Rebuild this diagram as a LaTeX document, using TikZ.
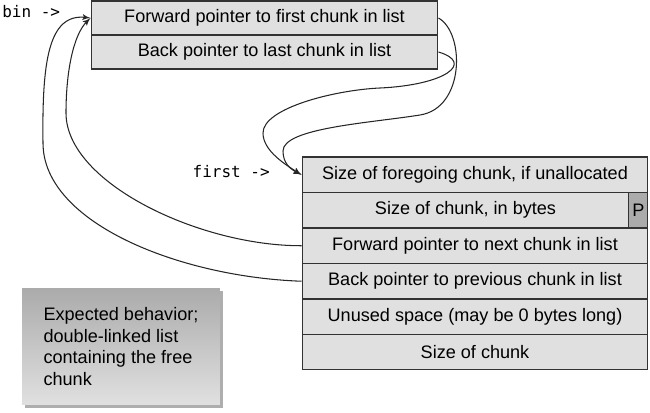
\documentclass[tikz,border=0pt]{standalone}
\usepackage{fontspec}
\setmainfont{Liberation Sans}
\setmonofont{DejaVu Sans Mono}
\usepackage{tikz}
\usetikzlibrary{arrows,positioning,shadows}
\tikzset{
	cell/.style = {draw=black!80, fill=black!12, rectangle, line width=0.6pt, inner sep=0pt, minimum width=6.92cm, minimum height=0.71cm, font=\fontsize{10.3}{12.3}\selectfont},
	pcell/.style = {cell, fill=black!33, minimum width=0.38cm},
	ptr/.style = {inner sep=0pt, font=\fontsize{9.1}{11}\selectfont\ttfamily},
	note/.style = {rectangle, top color=black!33, bottom color=black!12, minimum width=3.96cm, minimum height=2.34cm, align=left, font=\fontsize{10.3}{12.3}\selectfont, drop shadow={shadow xshift=0.6mm, shadow yshift=-0.6mm, opacity=0.45, fill=black!70}},
	link/.style = {-latex', line width=0.6pt, black!85}
}

\begin{document}
\begin{tikzpicture}[x=0.02cm, y=0.02cm]
    \useasboundingbox (0,0) rectangle (650,413);

    \node [cell, minimum width=6.94cm, minimum height=0.68cm] (fwdfirst) at (264.5,395) {Forward pointer to first chunk in list};
    \node [cell, minimum width=6.94cm, minimum height=0.68cm, below of=fwdfirst, node distance=0.68cm] (backlast) {Back pointer to last chunk in list};

    \node [cell] (foreg) at (475,238.25) {Size of foregoing chunk, if unallocated};
    \node [cell, minimum width=6.54cm, below of=foreg, node distance=0.71cm, xshift=-0.19cm] (sizeb) {Size of chunk, in bytes};
    \node [pcell, right of=sizeb, node distance=3.46cm] (pbit) {P};
    \node [cell, below of=sizeb, node distance=0.71cm, xshift=0.19cm] (fwdnext) {Forward pointer to next chunk in list};
    \node [cell, below of=fwdnext, node distance=0.71cm] (backprev) {Back pointer to previous chunk in list};
    \node [cell, below of=backprev, node distance=0.71cm] (unused) {Unused space (may be 0 bytes long)};
    \node [cell, below of=unused, node distance=0.71cm] (sizeend) {Size of chunk};

    \node [ptr, anchor=west] (binptr) at (2,401) {bin ->};
    \node [ptr, anchor=east] (firstptr) at (270,241) {first ->};

    \node [note] (expected) at (121,66.5) {Expected behavior;\\double-linked list\\containing the free\\chunk};

    \draw [link] (fwdfirst.east) .. controls (465,380) and (465,305) .. (420,298) .. controls (370,290) and (283,285) .. (283,262) .. controls (283,250) and (290,244) .. (foreg.west);
    \draw [link] (backlast.east) .. controls (475,350) and (445,328) .. (380,325) .. controls (335,323) and (263,305) .. (263,280) .. controls (263,262) and (286,248) .. (foreg.west);
    \draw [link] (fwdnext.west) .. controls (200,167) and (66,230) .. (66,300) .. controls (66,340) and (73,378) .. (fwdfirst.west);
    \draw [link] (backprev.west) .. controls (180,136) and (43,190) .. (43,270) .. controls (42,350) and (48,400) .. (fwdfirst.west);
  \end{tikzpicture}
\end{document}
